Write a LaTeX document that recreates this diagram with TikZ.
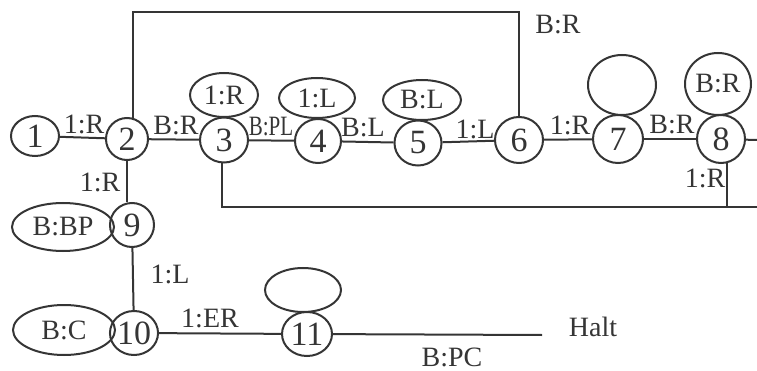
\documentclass[tikz,border=0pt]{standalone}
\usepackage{fontspec}
\setmainfont{Liberation Serif}
\usetikzlibrary{shapes.geometric}
\definecolor{ink}{HTML}{353535}
\begin{document}
\begin{tikzpicture}[x=1pt,y=-1pt, color=ink, line width=2pt,
  state/.style={ellipse, draw, inner sep=0pt,
    font=\fontsize{34}{34}\selectfont},
  tag/.style={ellipse, draw, inner sep=0pt,
    font=\fontsize{28}{28}\selectfont},
  lbl/.style={inner sep=0pt, font=\fontsize{28}{28}\selectfont}]
\useasboundingbox (0,0) rectangle (757,371);

% states
\node[state, minimum width=48pt, minimum height=40pt] (n1) at (35,136) {1};
\node[state, minimum width=42pt, minimum height=42pt] (n2) at (127,139) {2};
\node[state, minimum width=48pt, minimum height=45pt] (n3) at (224,140) {3};
\node[state, minimum width=46pt, minimum height=44pt] (n4) at (318,141) {4};
\node[state, minimum width=47pt, minimum height=45pt] (n5) at (418,143) {5};
\node[state, minimum width=48pt, minimum height=46pt] (n6) at (519,140) {6};
\node[state, minimum width=50pt, minimum height=48pt] (n7) at (618,139) {7};
\node[state, minimum width=48pt, minimum height=48pt] (n8) at (721,139) {8};
\node[state, minimum width=44pt, minimum height=44pt] (n9) at (132,225) {9};
\node[state, minimum width=44pt, minimum height=44pt] (n10) at (134,333) {10};
\node[state, minimum width=50pt, minimum height=44pt] (n11) at (307,334) {11};

% tags attached to the states
\node[tag, minimum width=68pt, minimum height=44pt] (a3) at (224,95) {1:R};
\node[tag, minimum width=76pt, minimum height=40pt] (a4) at (317,98) {1:L};
\node[tag, minimum width=78pt, minimum height=40pt] (a5) at (422,100) {B:L};
\node[tag, minimum width=68pt, minimum height=60pt] (a7) at (622,85) {};
\node[tag, minimum width=66pt, minimum height=62pt] (a8) at (718,84) {B:R};
\node[tag, minimum width=102pt, minimum height=48pt] (a9) at (63,227) {B:BP};
\node[tag, minimum width=102pt, minimum height=50pt] (a10) at (64,330) {B:C};
\node[tag, minimum width=76pt, minimum height=44pt] (a11) at (303,290) {};

% free ends
\coordinate (tr) at (519,12);
\coordinate (br) at (757,207);
\coordinate (r8) at (757,140);
\coordinate (hend) at (542,335);

% connectors
\draw (n1) -- (n2);
\draw (n2) -- (n3);
\draw (n3) -- (n4);
\draw (n4) -- (n5);
\draw (n5) -- (n6);
\draw (n6) -- (n7);
\draw (n7) -- (n8);
\draw (n8) -- (r8);
\draw (n2.75) |- (tr) -- (n6.north);
\draw (n3.-95) |- (br);
\draw (n8.-77) -- (n8.-77 |- br);
\draw (n2.south) -- (n2.south |- n9.north);
\draw (n9) -- (n10);
\draw (n10) -- (n11);
\draw (n11) -- (hend);

% connector labels
\node[lbl] (l12) at (84,124) {1:R};
\node[lbl] (l23) at (176,126) {B:R};
\node[lbl] (l34) at (271,127) {\scalebox{0.75}[1]{B:PL}};
\node[lbl] (l45) at (363,128) {B:L};
\node[lbl] (l56) at (475,129) {1:L};
\node[lbl] (l67) at (570,125) {1:R};
\node[lbl] (l78) at (672,125) {B:R};
\node[lbl] (l8b) at (705,178) {1:R};
\node[lbl] (l29) at (100,182) {1:R};
\node[lbl] (l910) at (170,274) {1:L};
\node[lbl] (l1011) at (210,318) {1:ER};
\node[lbl] (ltop) at (558,25) {B:R};
\node[lbl] (lhalt) at (593,327) {Halt};
\node[lbl] (lpc) at (452,357) {B:PC};
\end{tikzpicture}
\end{document}
